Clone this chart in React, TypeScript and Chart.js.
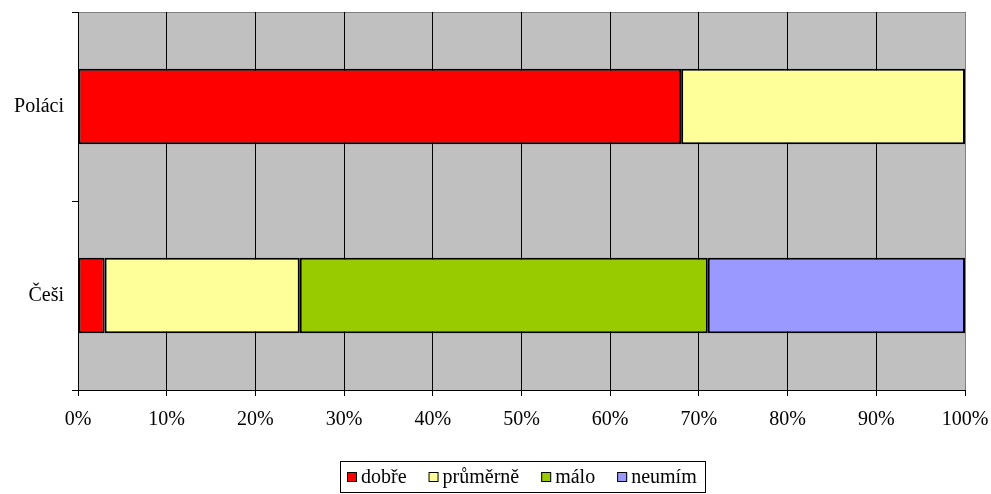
import React, { useEffect, useRef } from "react";
import { Chart, registerables } from "chart.js";

Chart.register(...registerables);

const categories = ["Poláci", "Češi"];
const seriesNames = ["dobře", "průměrně", "málo", "neumím"];
const dobre = [68, 3];
const prumerne = [32, 22];
const malo = [null, 46];
const neumim = [null, 29];
const seriesColors = ["#FF0000", "#FFFF99", "#99CC00", "#9999FF"];
const xTicks = [0, 10, 20, 30, 40, 50, 60, 70, 80, 90, 100];

const FONT = "'Liberation Serif', 'Times New Roman', serif";
const FS = 20;

const bgPlugin = {
  id: "plotBg",
  beforeDraw(chart: any) {
    const { ctx, chartArea } = chart;
    ctx.save();
    ctx.fillStyle = "#C0C0C0";
    ctx.fillRect(chartArea.left, chartArea.top, chartArea.right - chartArea.left, chartArea.bottom - chartArea.top);
    ctx.strokeStyle = "#808080";
    ctx.lineWidth = 1;
    ctx.beginPath();
    ctx.moveTo(chartArea.left, Math.round(chartArea.top) + 0.5);
    ctx.lineTo(Math.round(chartArea.right) + 0.5, Math.round(chartArea.top) + 0.5);
    ctx.lineTo(Math.round(chartArea.right) + 0.5, chartArea.bottom);
    ctx.stroke();
    ctx.restore();
  },
  afterDraw(chart: any) {
    const ctx = chart.ctx;
    const datasets = chart.data.datasets;
    ctx.save();
    ctx.font = `${FS}px ${FONT}`;
    const box = 10;
    const gap = 4;
    const itemGap = 22;
    const padL = 7;
    const padR = 8;
    const widths = datasets.map((d: any) => ctx.measureText(d.label).width);
    let total = padL + padR;
    widths.forEach((w: number, i: number) => {
      total += box + gap + w + (i < widths.length - 1 ? itemGap : 0);
    });
    const left = 340;
    const top = 461;
    const h = 32;
    ctx.strokeStyle = "#000";
    ctx.lineWidth = 1;
    ctx.strokeRect(left + 0.5, top + 0.5, Math.round(total), h - 1);
    let x = left + padL;
    const cy = top + h / 2;
    ctx.textBaseline = "middle";
    ctx.textAlign = "left";
    datasets.forEach((d: any, i: number) => {
      ctx.fillStyle = d.backgroundColor;
      ctx.fillRect(x, Math.round(cy - box / 2), box, box);
      ctx.strokeStyle = "#000";
      ctx.strokeRect(x + 0.5, Math.round(cy - box / 2) + 0.5, box - 1, box - 1);
      x += box + gap;
      ctx.fillStyle = "#000";
      ctx.fillText(d.label, x, cy + 1);
      x += widths[i] + itemGap;
    });
    ctx.restore();
  },
};

export default function App() {
  const ref = useRef<HTMLCanvasElement>(null);
  useEffect(() => {
    document.body.style.margin = "0";
    const data = [dobre, prumerne, malo, neumim];
    const chart = new Chart(ref.current!, {
      type: "bar",
      data: {
        labels: categories,
        datasets: seriesNames.map((n, i) => ({
          label: n,
          data: data[i] as any,
          backgroundColor: seriesColors[i],
          borderColor: "#000",
          borderWidth: 2,
          borderSkipped: false,
          barPercentage: 0.4,
          categoryPercentage: 1,
        })),
      },
      options: {
        indexAxis: "y",
        animation: false,
        responsive: false,
        maintainAspectRatio: false,
        layout: { padding: { top: 12, right: 26, left: 0, bottom: 44 } },
        plugins: {
          tooltip: { enabled: false },
          legend: { display: false },
        },
        scales: {
          x: {
            stacked: true,
            min: 0,
            max: 100,
            afterBuildTicks: (s: any) => {
              s.ticks = xTicks.map((v) => ({ value: v }));
            },
            afterFit: (s: any) => {
              s.height = 60;
              s.paddingLeft = 0;
              s.paddingRight = 0;
            },
            ticks: {
              color: "#000",
              font: { family: FONT, size: FS },
              padding: 12,
              callback: (v: any) => v + "%",
              maxRotation: 0,
            },
            grid: {
              color: (c: any) => (c.tick && c.tick.value === 100 ? "#808080" : "#000"),
              tickColor: "#000",
              tickLength: 6,
              lineWidth: 1,
            },
            border: { color: "#000", width: 1 },
          },
          y: {
            stacked: true,
            afterFit: (s: any) => {
              s.width = 78;
              s.paddingTop = 0;
              s.paddingBottom = 0;
            },
            ticks: {
              color: "#000",
              font: { family: FONT, size: FS },
              padding: 8,
            },
            grid: {
              offset: true,
              drawOnChartArea: false,
              tickLength: 6,
              tickColor: "#000",
              color: "#000",
            },
            border: { color: "#000", width: 1 },
          },
        },
      } as any,
      plugins: [bgPlugin],
    });
    return () => chart.destroy();
  }, []);
  return (
    <div style={{ width: 991, height: 494 }}>
      <canvas ref={ref} width={991} height={494} style={{ display: "block" }} />
    </div>
  );
}
